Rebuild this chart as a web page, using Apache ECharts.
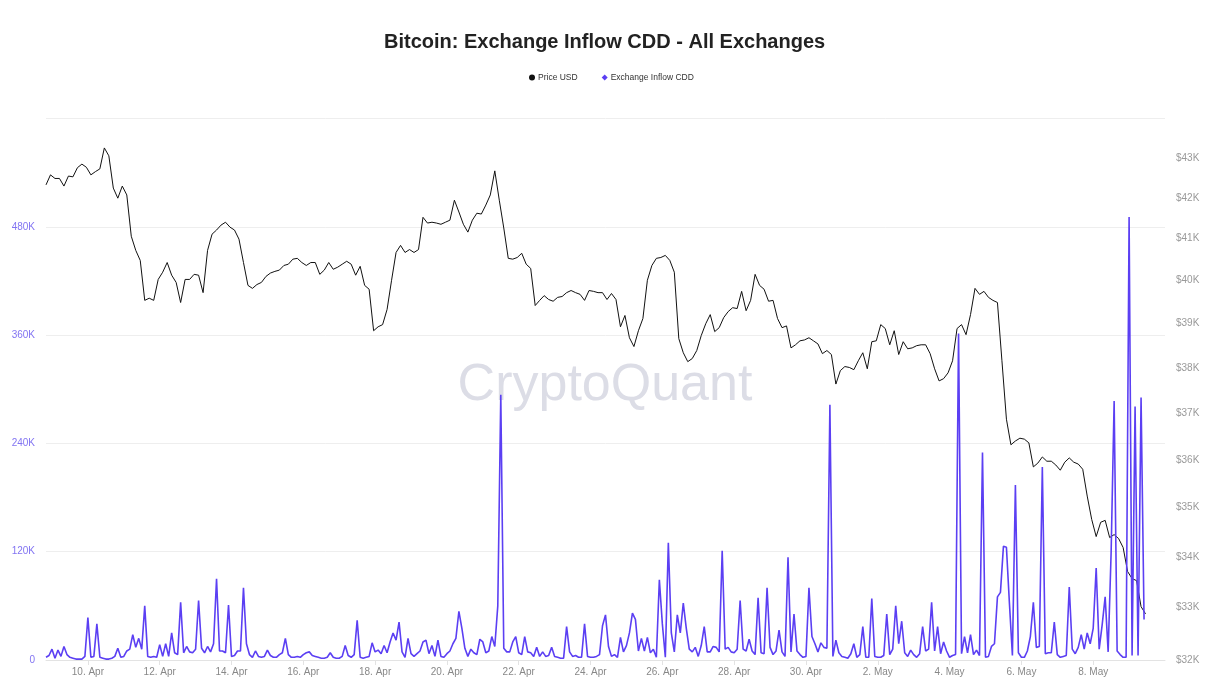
<!DOCTYPE html>
<html><head><meta charset="utf-8">
<script src="https://cdn.jsdelivr.net/npm/echarts@6/dist/echarts.min.js"></script>
<style>html,body{margin:0;padding:0;background:#fff}#c{width:1224px;height:699px}</style>
</head><body><div id="c"></div>
<script>
// hours relative to 10 Apr 2022 00:00 (UTC) of the first sample
const START_HOUR = -28;
const PRICE_STEP_H = 3;
const CDD_STEP_H = 2;

// Price USD, in thousands of dollars, every 3 hours
const priceUSD_K = [
42.32,42.57,42.48,42.48,42.29,42.54,42.52,42.75,42.84,42.76,
42.57,42.65,42.72,43.25,43.05,42.24,41.99,42.29,42.07,41.06,
40.72,40.48,39.54,39.59,39.54,40.03,40.20,40.43,40.13,39.96,
39.49,40.03,40.03,40.15,40.13,39.72,40.72,41.11,41.21,41.33,
41.40,41.28,41.21,40.99,40.43,39.89,39.82,39.91,39.96,40.10,
40.18,40.22,40.25,40.36,40.39,40.51,40.53,40.43,40.36,40.43,
40.43,40.15,40.25,40.43,40.27,40.32,40.39,40.46,40.39,40.13,
40.34,39.89,39.80,38.84,38.93,38.98,39.33,40.01,40.67,40.84,
40.67,40.74,40.67,40.74,41.52,41.38,41.40,41.38,41.35,41.40,
41.45,41.94,41.65,41.35,41.16,41.45,41.62,41.60,41.82,42.07,
42.67,41.94,41.26,40.53,40.51,40.55,40.65,40.39,40.29,39.42,
39.54,39.65,39.56,39.52,39.61,39.63,39.72,39.77,39.72,39.68,
39.54,39.77,39.75,39.72,39.72,39.56,39.70,39.56,38.93,39.19,
38.68,38.48,38.84,39.12,40.01,40.36,40.53,40.55,40.60,40.48,
40.20,38.66,38.34,38.14,38.21,38.39,38.73,39.00,39.21,38.82,
38.91,39.14,39.28,39.37,39.35,39.75,39.30,39.54,40.15,39.89,
39.80,39.52,39.54,39.12,38.91,38.95,38.45,38.52,38.61,38.63,
38.68,38.61,38.54,38.32,38.39,38.30,37.64,37.94,38.03,38.01,
37.96,38.16,38.34,37.98,38.59,38.61,38.98,38.89,38.52,38.84,
38.30,38.59,38.43,38.45,38.50,38.52,38.52,38.32,37.98,37.71,
37.76,37.89,38.16,38.89,38.98,38.75,39.21,39.82,39.68,39.75,
39.61,39.54,39.49,38.16,36.87,36.32,36.40,36.46,36.44,36.36,
35.85,35.93,36.06,35.97,35.97,35.89,35.78,35.95,36.04,35.95,
35.91,35.80,35.24,34.76,34.41,34.70,34.74,34.39,34.45,34.37,
34.19,33.71,33.57,33.53,33.02,32.88
];

// Exchange Inflow CDD, in thousands, every 2 hours
const inflowCDD_K = [
3,5,12,2,11,4,15,6,3,2,
1,1,1,4,47,3,4,40,3,2,
1,1,2,4,13,3,4,10,12,28,
14,24,12,60,4,3,4,3,17,4,
18,4,30,8,6,64,8,15,9,8,
12,66,13,8,15,9,18,90,10,10,
8,61,4,5,10,10,80,18,6,3,
10,4,3,4,11,5,3,3,6,8,
24,6,3,3,4,3,6,8,9,5,
4,3,2,2,3,8,3,2,2,4,
16,5,3,6,44,3,2,3,4,19,
9,11,7,16,8,20,30,22,42,9,
3,24,7,4,7,10,20,22,7,16,
4,22,4,3,7,10,18,24,54,35,
13,4,12,8,6,23,20,8,10,26,
15,60,294,13,9,9,20,26,8,6,
26,9,8,4,14,4,9,4,5,14,
4,3,2,2,37,9,4,5,3,3,
40,4,3,3,4,6,38,50,15,4,
6,3,25,9,16,30,52,45,10,24,
10,25,8,12,3,89,40,3,130,30,
9,50,30,63,35,12,9,14,4,16,
37,9,9,15,14,9,121,12,14,9,
8,12,66,12,10,23,10,6,69,8,
7,80,14,6,10,33,9,4,114,9,
51,10,6,3,4,80,26,18,9,19,
14,13,283,4,22,8,4,3,2,7,
18,3,6,37,3,3,68,4,3,3,
5,51,6,12,60,18,43,8,4,11,
6,3,7,37,10,12,64,10,37,7,
20,10,3,5,6,362,7,26,8,28,
6,11,5,230,3,4,15,18,70,75,
126,125,63,5,194,8,3,3,10,26,
64,14,15,214,7,8,8,42,6,3,
4,5,81,12,7,14,28,12,30,18,
35,102,12,39,70,9,120,287,10,6,
3,3,491,5,281,5,291,45
];

// axis ticks
const xTickDays = [0,2,4,6,8,10,12,14,16,18,20,22,24,26,28]; // days after 10 Apr 2022
const cddTicks = [0,120,240,360,480,600];
const priceTicks = [32,33,34,35,36,37,38,39,40,41,42,43];
const MONTHS = ['Jan','Feb','Mar','Apr','May','Jun','Jul','Aug','Sep','Oct','Nov','Dec'];
const BASE_MS = Date.UTC(2022,3,10);

const priceData = priceUSD_K.map((v,i)=>[(START_HOUR + i*PRICE_STEP_H)/24, v]);
const cddData = inflowCDD_K.map((v,j)=>[(START_HOUR + j*CDD_STEP_H)/24, v]);

const FONT = '"Liberation Sans", Arial, Helvetica, sans-serif';
const chart = echarts.init(document.getElementById('c'), null, {renderer:'canvas'});
chart.setOption({
  animation:false,
  backgroundColor:'#ffffff',
  textStyle:{fontFamily:FONT},
  title:{
    text:'Bitcoin: Exchange Inflow CDD - All Exchanges',
    left:379, top:27,
    textStyle:{fontSize:20, fontWeight:'bold', color:'#222', fontFamily:FONT}
  },
  legend:{
    top:68, left:524,
    itemWidth:6, itemHeight:6, itemGap:24,
    textStyle:{fontSize:8.5, color:'#333', fontFamily:FONT, padding:[0,0,0,-2]},
    data:[
      {name:'Price USD', icon:'circle', itemStyle:{color:'#111'}},
      {name:'Exchange Inflow CDD', icon:'diamond', itemStyle:{color:'#5b3ff3'}}
    ]
  },
  graphic:[{
    type:'text', silent:true, z:0,
    x:605, y:386,
    style:{text:'CryptoQuant', fill:'#dcdde6', fontSize:52, fontFamily:FONT,
      align:'center', verticalAlign:'middle'}
  }],
  grid:{left:46, right:59, top:118.7, bottom:39, containLabel:false},
  xAxis:{
    type:'value', min:START_HOUR/24, max:30,
    axisLine:{show:true, lineStyle:{color:'#e3e3e3'}},
    axisTick:{show:true, customValues:xTickDays, length:5, lineStyle:{color:'#e3e3e3'}},
    splitLine:{show:false},
    axisLabel:{
      customValues:xTickDays, color:'#888', fontSize:10, margin:7,
      formatter:function(v){
        const d = new Date(BASE_MS + v*86400000);
        return d.getUTCDate() + '. ' + MONTHS[d.getUTCMonth()];
      }
    }
  },
  yAxis:[
    {
      type:'value', position:'left', min:cddTicks[0], max:cddTicks[cddTicks.length-1], interval:120,
      axisLine:{show:false}, axisTick:{show:false},
      splitLine:{show:true, lineStyle:{color:'#eeeeee'}},
      axisLabel:{color:'#8274f2', fontSize:10, margin:11,
        formatter:function(v){ return v===0 ? '0' : (v>=600 ? '' : v+'K'); }}
    },
    {
      type:'log', logBase:10, position:'right', min:32, max:44,
      axisLine:{show:false}, axisTick:{show:false}, splitLine:{show:false},
      axisLabel:{customValues:priceTicks, color:'#999', fontSize:10, margin:11,
        formatter:function(v){ return '$' + Math.round(v) + 'K'; }}
    }
  ],
  series:[
    {
      name:'Price USD', type:'line', yAxisIndex:1, data:priceData,
      showSymbol:false, symbol:'circle', lineStyle:{color:'#111', width:1},
      itemStyle:{color:'#111'}, z:2
    },
    {
      name:'Exchange Inflow CDD', type:'line', yAxisIndex:0, data:cddData,
      showSymbol:false, symbol:'diamond', lineStyle:{color:'#5b3ff3', width:1.6},
      itemStyle:{color:'#5b3ff3'}, z:3
    }
  ]
});
</script>
</body></html>
